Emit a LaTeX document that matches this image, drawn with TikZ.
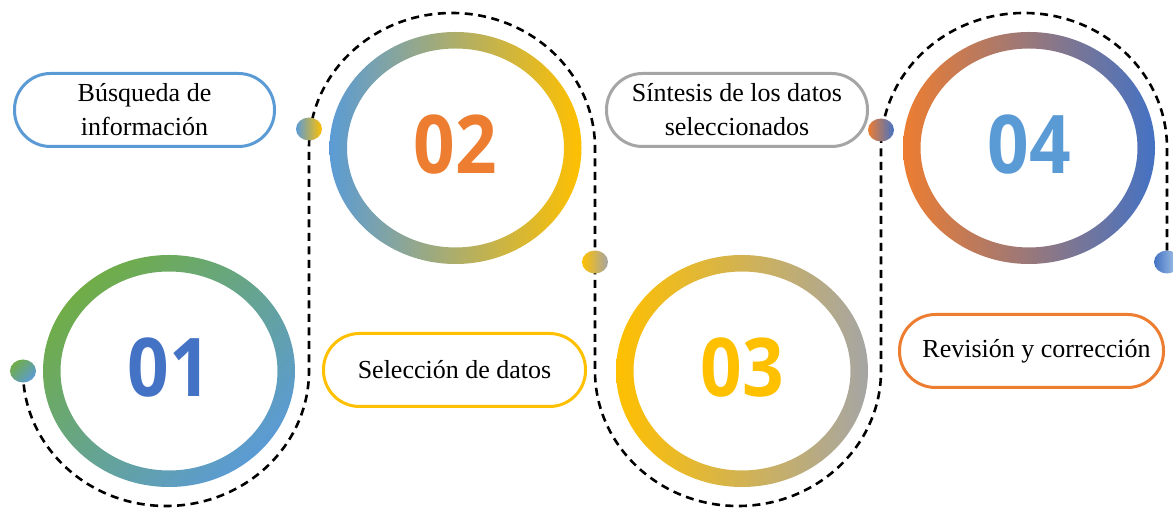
\documentclass[tikz,border=0pt]{standalone}
\usepackage{fontspec}
\setmainfont{Liberation Serif}
\newfontfamily\numfont{Open Sans}[FakeStretch=0.9]
\definecolor{cblue}{HTML}{5B9BD5}
\definecolor{cdblue}{HTML}{4472C4}
\definecolor{cgreen}{HTML}{70AD47}
\definecolor{cyellow}{HTML}{FFC000}
\definecolor{cgray}{HTML}{A5A5A5}
\definecolor{corange}{HTML}{ED7D31}
\definecolor{mid02}{HTML}{C8B39E}
\definecolor{mid03}{HTML}{D6B47E}
\definecolor{mid04}{HTML}{AE7896}
\tikzset{
  dashline/.style={black, line width=2.6pt, dash pattern=on 8pt off 5.5pt},
  labelbox/.style={draw, line width=3pt, rounded corners=36pt, minimum height=73pt,
    inner sep=0pt, align=center, fill=white, text=black,
    font=\fontsize{26}{34}\selectfont},
  numtext/.style={font=\numfont\bfseries\fontsize{81}{81}\selectfont, inner sep=0pt},
  ring/.style={even odd rule},
}
\begin{document}
\begin{tikzpicture}[x=1pt,y=1pt]
\useasboundingbox (0,0) rectangle (1173,508);
% centres
\coordinate (c1) at (169,137);
\coordinate (c2) at (455.5,360);
\coordinate (c3) at (742,137);
\coordinate (c4) at (1029,360);
% dots
\coordinate (d1) at (23,137);
\coordinate (d2) at (309,379);
\coordinate (d3) at (595,246);
\coordinate (d4) at (881,378);
\coordinate (d5) at (1167,246);
% dashed track
\draw[dashline] (d1) arc[start angle=180, end angle=360, x radius=143, y radius=135]
  -- ++(0,223) arc[start angle=180, end angle=0, x radius=143, y radius=135]
  -- ++(0,-223) arc[start angle=180, end angle=360, x radius=143, y radius=135]
  -- ++(0,223) arc[start angle=180, end angle=0, x radius=143, y radius=135]
  -- (d5);
% rings
\shade[ring, left color=cgreen, right color=cblue, shading angle=45]
  (c1) ellipse[x radius=126, y radius=116] (c1) ellipse[x radius=108.5, y radius=99.5];
\shade[ring, left color=cblue, middle color=mid02, right color=cyellow]
  (c2) ellipse[x radius=126, y radius=116] (c2) ellipse[x radius=108.5, y radius=99.5];
\shade[ring, left color=cyellow, middle color=mid03, right color=cgray]
  (c3) ellipse[x radius=126, y radius=116] (c3) ellipse[x radius=108.5, y radius=99.5];
\shade[ring, left color=corange, middle color=mid04, right color=cdblue]
  (c4) ellipse[x radius=126, y radius=116] (c4) ellipse[x radius=108.5, y radius=99.5];
% dots
\shade[left color=cgreen, right color=cblue, shading angle=45] (d1) ellipse[x radius=13, y radius=11.5];
\shade[left color=cblue, middle color=mid02, right color=cyellow] (d2) ellipse[x radius=13, y radius=11.5];
\shade[left color=cyellow, right color=cgray] (d3) ellipse[x radius=13, y radius=11.5];
\shade[left color=corange, middle color=mid04, right color=cdblue] (d4) ellipse[x radius=13, y radius=11.5];
\shade[left color=cdblue, right color=cblue!50] (d5) ellipse[x radius=13, y radius=11.5];
% numbers
\node[numtext, text=cdblue] (n1) at ([yshift=3]c1) {01};
\node[numtext, text=corange] (n2) at ([yshift=3]c2) {02};
\node[numtext, text=cyellow] (n3) at ([yshift=3]c3) {03};
\node[numtext, text=cblue] (n4) at ([yshift=3]c4) {04};
% label boxes
\node[labelbox, draw=cblue, minimum width=260pt] (b1) at (144.5,398) {Búsqueda de\\información};
\node[labelbox, draw=cgray, minimum width=261pt] (b2) at (737,398) {Síntesis de los datos\\seleccionados};
\node[labelbox, draw=cyellow, minimum width=262pt] (b3) at (454.5,138) {Selección de datos};
\node[labelbox, draw=corange, minimum width=264pt] (b4) at (1031.5,157) {\hspace*{10pt}Revisión y corrección};
\end{tikzpicture}
\end{document}
